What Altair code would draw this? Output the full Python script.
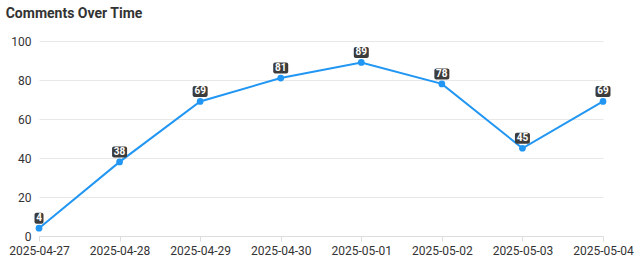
import altair as alt
import pandas as pd

dates = ["2025-04-27", "2025-04-28", "2025-04-29", "2025-04-30",
         "2025-05-01", "2025-05-02", "2025-05-03", "2025-05-04"]
comments = [4, 38, 69, 81, 89, 78, 45, 69]

df = pd.DataFrame({"date": dates, "comments": comments})
df["label"] = df["comments"].astype(str)
df["digits"] = df["label"].str.len()

FONT = "Roboto"
BLUE = "#2196F3"

x = alt.X("date:O", title=None, sort=dates,
          scale=alt.Scale(type="point", padding=0),
          axis=alt.Axis(labelAngle=0, labelFontSize=12, labelColor="#333",
                        tickColor="#dddddd", domainColor="#dddddd",
                        tickSize=5, labelPadding=4, labelFont=FONT))
y = alt.Y("comments:Q", title=None,
          scale=alt.Scale(domain=[0, 100], nice=False),
          axis=alt.Axis(values=[0, 20, 40, 60, 80, 100], ticks=False, domain=False,
                        gridColor="#e8e8e8", labelFontSize=12, labelColor="#333",
                        labelPadding=8, labelFont=FONT))

base = alt.Chart(df).encode(x=x, y=y)

line = base.mark_line(color=BLUE, strokeWidth=2)
points = base.mark_circle(color=BLUE, size=45, opacity=1)
box2 = base.transform_filter("datum.digits >= 2").mark_rect(
    width=15, height=11, yOffset=-10, color="#3c3c3c", cornerRadius=2)
box1 = base.transform_filter("datum.digits < 2").mark_rect(
    width=9, height=11, yOffset=-10, color="#3c3c3c", cornerRadius=2)
text = base.mark_text(color="white", fontSize=10, fontWeight="bold", dy=-10,
                      baseline="middle", font=FONT).encode(text="label:N")

chart = alt.layer(line, points, box2, box1, text).properties(
    width=564, height=195,
    title=alt.TitleParams("Comments Over Time", anchor="start", fontSize=14,
                          fontWeight="bold", color="#333", font=FONT,
                          dx=-3, offset=14),
    autosize=alt.AutoSizeParams(type="none"),
    padding={"left": 39, "top": 41, "right": 37, "bottom": 32},
).configure_view(stroke=None)

chart.save("out.html", embed_options={"renderer": "svg", "actions": False})
